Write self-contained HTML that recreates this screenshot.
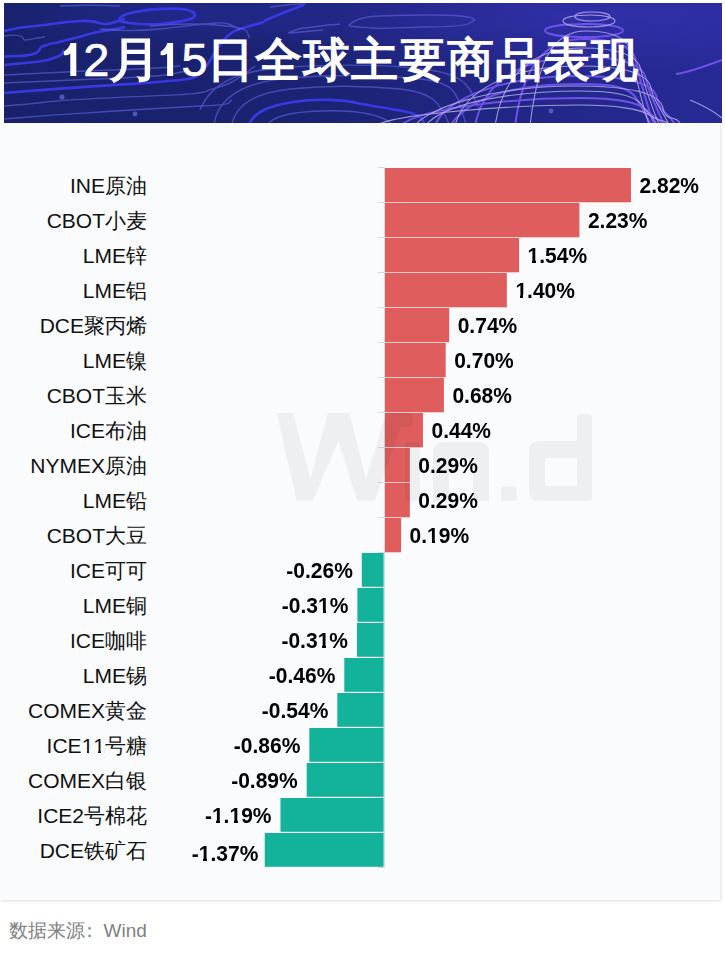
<!DOCTYPE html>
<html><head><meta charset="utf-8">
<style>
html,body{margin:0;padding:0;}
body{width:725px;height:954px;background:#fff;position:relative;overflow:hidden;font-family:"Liberation Sans",sans-serif;}
#banner{position:absolute;left:4px;top:3px;width:718px;height:120px;overflow:hidden;}
#title{position:absolute;left:54px;top:30px;color:#fff;font-size:47px;font-weight:bold;white-space:nowrap;letter-spacing:1px;line-height:54px;}
#title u{text-decoration:none;color:transparent;-webkit-text-stroke:0;}
#title i{font-style:normal;font-weight:normal;letter-spacing:-1px;-webkit-text-stroke:0.6px #fff;}
#panel{position:absolute;left:0;top:123px;width:720px;height:777px;background:#fafbfd;box-shadow:1px 1px 3px rgba(0,0,0,0.13);}
#chart{position:absolute;left:0;top:0;}
.cat{position:absolute;right:578px;font-size:21px;line-height:24px;color:#111;white-space:nowrap;}
.val{position:absolute;font-size:21px;line-height:24px;font-weight:bold;color:#000;white-space:nowrap;transform:scaleY(1.08);transform-origin:0 19.25px;}
.o{position:relative;}
.o::before{content:'';position:absolute;left:0.03em;width:0.185em;bottom:0.19em;height:0.135em;background:#fafbfd;}
.o::after{content:'';position:absolute;left:0.385em;width:0.17em;bottom:0.19em;height:0.135em;background:#fafbfd;}
.r{position:relative;}
.r::before{content:'';position:absolute;left:0.05em;width:0.185em;bottom:0.19em;height:0.11em;background:#fafbfd;}
.r::after{content:'';position:absolute;left:0.355em;width:0.17em;bottom:0.19em;height:0.11em;background:#fafbfd;}
#src{position:absolute;left:8.5px;top:919px;font-size:19px;line-height:24px;color:#808080;white-space:nowrap;}
#src span{font-size:19px;}
</style></head><body>
<div id="banner">
<svg width="718" height="120" viewBox="0 0 718 120">
<defs>
<linearGradient id="bg" x1="0" y1="0" x2="1" y2="0">
<stop offset="0" stop-color="#18216a"/><stop offset="0.45" stop-color="#1b2374"/><stop offset="0.75" stop-color="#222788"/><stop offset="1" stop-color="#272a96"/></linearGradient>
<radialGradient id="glow" cx="0.8" cy="0.1" r="0.5">
<stop offset="0" stop-color="#3a35c0" stop-opacity="0.55"/><stop offset="1" stop-color="#3a35c0" stop-opacity="0"/></radialGradient>
<radialGradient id="glow2" cx="0.25" cy="0.1" r="0.3">
<stop offset="0" stop-color="#2c30b0" stop-opacity="0.4"/><stop offset="1" stop-color="#2c30b0" stop-opacity="0"/></radialGradient>
<filter id="bl" x="-5%" y="-50%" width="110%" height="200%"><feGaussianBlur stdDeviation="0.7"/></filter>
</defs>
<rect width="718" height="120" fill="url(#bg)"/>
<rect width="718" height="120" fill="url(#glow)"/>
<rect width="718" height="120" fill="url(#glow2)"/>
<g fill="none" stroke="#3e3ef5" stroke-width="2.6" opacity="0.85" filter="url(#bl)"><path d="M0.0 28.0C8.0 26.0 18.0 24.0 31.0 23.0S56.0 19.0 76.0 18.0S91.0 21.0 101.0 21.0S111.0 18.0 121.0 16.0"/><path d="M0.0 53.5C8.0 53.0 16.0 53.0 21.0 52.6S32.0 50.0 34.0 48.5S36.0 44.0 39.0 43.0S46.0 40.5 51.0 40.0S61.0 37.0 71.0 35.0S86.0 30.0 96.0 28.5S111.0 26.0 121.0 24.0"/><path d="M0.0 62.0C11.0 61.0 21.0 60.0 29.0 59.3S48.0 56.0 54.0 53.5S58.0 49.0 60.0 47.0"/><path d="M0.0 90.0C36.0 87.0 76.0 84.0 116.0 81.6S161.0 78.0 176.0 77.0S194.0 73.0 201.0 65.0S208.0 50.0 219.0 38.0S233.0 27.0 246.0 23.0S254.0 21.0 260.0 19.0"/><path d="M245.0 121.0C251.0 109.0 264.0 103.0 289.0 99.0S341.0 97.0 353.0 100.0S401.0 107.0 410.0 111.0S418.0 116.0 420.0 121.0"/><path d="M115.0 18.0C126.0 21.0 146.0 22.0 156.0 21.0S186.0 18.0 190.0 14.0S186.0 6.0 173.0 5.7S146.0 6.0 131.0 9.0S115.0 15.0 115.0 18.0Z"/><path d="M260.0 18.0C271.0 13.0 286.0 7.0 300.0 2.0"/></g>
<g fill="none" stroke="#6464e0" stroke-width="1.4" opacity="0.6" filter="url(#bl)"><path d="M0.0 33.0C6.0 32.0 14.0 32.0 17.5 33.6S18.0 37.0 21.0 37.0S31.0 35.0 41.0 34.0"/><path d="M0.0 72.0C26.0 71.0 46.0 69.5 62.0 69.0S96.0 67.0 116.0 66.7S156.0 65.0 176.0 63.0"/><path d="M0.0 80.0C36.0 78.5 76.0 76.5 116.0 75.0S166.0 72.0 186.0 67.0"/><path d="M0.0 103.0C26.0 101.0 41.0 99.0 56.0 97.6S146.0 93.0 176.0 91.6S201.0 88.0 207.0 86.4S224.0 81.0 228.0 79.0S241.0 71.0 251.0 63.0"/><path d="M0.0 116.0C26.0 114.0 41.0 112.5 56.0 111.6S156.0 105.0 196.0 103.0S221.0 100.0 228.0 97.0"/><path d="M146.0 23.0C166.0 21.0 196.0 20.0 223.0 23.0S241.0 30.0 246.0 35.0"/><path d="M96.0 26.0C116.0 28.0 136.0 28.0 156.0 26.0S196.0 21.0 212.0 20.0S231.0 25.0 236.0 27.0"/><path d="M345.0 22.0C351.0 16.0 361.0 13.5 376.0 13.0S436.0 11.0 456.0 13.0S471.0 17.0 466.0 20.0S436.0 24.0 421.0 24.0S381.0 26.0 368.0 25.0S345.0 24.0 345.0 22.0Z"/><path d="M286.0 30.0C296.0 29.0 308.0 28.0 319.0 27.0"/><path d="M266.0 4.0C281.0 2.0 291.0 1.0 302.0 0.5"/><path d="M284.0 30.0C291.0 27.0 296.0 25.0 300.0 25.0S321.0 22.0 336.0 21.0"/><path d="M56.0 3.0C76.0 2.0 96.0 2.0 116.0 3.0"/><path d="M228.0 121.0C232.0 103.0 248.0 90.0 286.0 86.0S366.0 83.0 396.0 86.0S436.0 98.0 445.0 121.0"/><path d="M210.0 121.0C214.0 97.0 236.0 79.0 286.0 75.0S376.0 72.0 416.0 76.0S452.0 93.0 462.0 121.0"/><path d="M264.0 121.0C270.0 113.0 286.0 109.0 316.0 108.0S374.0 109.0 388.0 121.0"/><path d="M196.0 107.0C206.0 82.0 231.0 67.0 286.0 64.0S386.0 61.0 426.0 67.0S466.0 87.0 476.0 107.0"/></g>
<g fill="none" stroke="#7656f2" stroke-width="2" opacity="0.9" filter="url(#bl)"><path d="M584.0,21.0 C605.0,21.0 619.0,24.2 619.0,27.5 C619.0,31.4 601.5,34.0 584.0,34.0 C558.2,34.0 541.0,31.4 541.0,27.5 C541.0,23.6 558.2,21.0 584.0,21.0 Z"/><path d="M511.0,123.0 C519.0,61.0 542.0,36.0 580.0,36.0 C609.4,36.0 629.0,42.0 632.0,58.0 S645.0,109.0 651.0,124.0"/><path d="M471.0,123.0 C479.0,79.0 518.2,54.0 576.0,54.0 C613.8,54.0 639.0,60.0 642.0,76.0 S655.0,109.0 661.0,124.0"/><path d="M431.0,123.0 C439.0,98.0 494.4,73.0 572.0,73.0 C618.8,73.0 650.0,79.0 653.0,95.0 S666.0,109.0 672.0,124.0"/><path d="M446.0,123.0 C466.0,92.0 516.0,81.0 576.0,81.0 C611.0,81.0 626.0,85.0 632.0,95.0 S644.0,115.0 648.0,124.0"/><path d="M396.0,123.0 C416.0,104.0 516.0,95.0 576.0,95.0 C611.0,95.0 634.0,99.0 642.0,107.0 S656.0,115.0 660.0,124.0"/><path d="M672.0,71.0 C686.0,69.0 701.0,63.0 718.0,57.0"/></g>
<g fill="none" stroke="#c9bdf8" stroke-width="1.1" opacity="0.75"><path d="M588.0,9.0 C598.8,9.0 606.0,11.2 606.0,13.5 C606.0,16.2 597.0,18.0 588.0,18.0 C577.8,18.0 571.0,16.2 571.0,13.5 C571.0,10.8 577.8,9.0 588.0,9.0 Z"/><path d="M586.0,12.0 C601.0,12.0 611.0,15.0 611.0,18.0 C611.0,21.6 598.5,24.0 586.0,24.0 C569.8,24.0 559.0,21.6 559.0,18.0 C559.0,14.4 569.8,12.0 586.0,12.0 Z"/><path d="M526.0,123.0 C534.0,53.0 551.2,28.0 582.0,28.0 C607.2,28.0 624.0,34.0 627.0,50.0 S640.0,109.0 646.0,124.0"/><path d="M491.0,123.0 C499.0,70.0 530.1,45.0 578.0,45.0 C611.6,45.0 634.0,51.0 637.0,67.0 S650.0,109.0 656.0,124.0"/><path d="M451.0,123.0 C459.0,88.0 506.4,63.0 574.0,63.0 C616.0,63.0 644.0,69.0 647.0,85.0 S660.0,109.0 666.0,124.0"/><path d="M411.0,123.0 C419.0,108.0 482.6,83.0 570.0,83.0 C621.6,83.0 656.0,89.0 659.0,105.0 S672.0,109.0 678.0,124.0"/><path d="M421.0,123.0 C441.0,98.0 516.0,88.0 576.0,88.0 C611.0,88.0 630.0,92.0 637.0,101.0 S650.0,115.0 654.0,124.0"/><path d="M371.0,123.0 C391.0,110.0 516.0,102.0 576.0,102.0 C611.0,102.0 638.0,106.0 647.0,113.0 S662.0,115.0 666.0,124.0"/><path d="M686.0,97.0 C696.0,101.0 708.0,107.0 718.0,115.0"/></g>
<g fill="#8080f0" opacity="0.55" filter="url(#bl)"><circle cx="58" cy="94" r="2.6"/><circle cx="131" cy="111" r="2.4"/><circle cx="547" cy="108" r="2.4"/></g>
<g fill="#fff"><path d="M72.3,39.9 L72.3,72.9 L66.3,72.9 L66.3,50.4 Q63.3,53.1 59.8,52.1 L59.8,48.7 Q64.8,45.4 66.6,39.9 Z"/><path d="M169.1,39.9 L169.1,72.9 L163.1,72.9 L163.1,50.4 Q160.1,53.1 156.6,52.1 L156.6,48.7 Q161.6,45.4 163.4,39.9 Z"/></g>
</svg>
<div id="title"><i><u>1</u>2</i><span style="display:inline-block;transform:translateX(3px) scale(1.1,1.02)">月</span><i><u>1</u>5</i>日全球主要商品表现</div>
</div>
<div id="panel"></div>
<svg id="chart" width="725" height="954" style="position:absolute;left:0;top:0">
<g stroke="#d9d9d9" stroke-width="1"><line x1="378" y1="167.5" x2="384" y2="167.5"/><line x1="378" y1="202.5" x2="384" y2="202.5"/><line x1="378" y1="237.5" x2="384" y2="237.5"/><line x1="378" y1="272.5" x2="384" y2="272.5"/><line x1="378" y1="307.5" x2="384" y2="307.5"/><line x1="378" y1="342.5" x2="384" y2="342.5"/><line x1="378" y1="377.5" x2="384" y2="377.5"/><line x1="378" y1="412.5" x2="384" y2="412.5"/><line x1="378" y1="447.5" x2="384" y2="447.5"/><line x1="378" y1="482.5" x2="384" y2="482.5"/><line x1="378" y1="517.5" x2="384" y2="517.5"/><line x1="378" y1="552.5" x2="384" y2="552.5"/><line x1="378" y1="587.5" x2="384" y2="587.5"/><line x1="378" y1="622.5" x2="384" y2="622.5"/><line x1="378" y1="657.5" x2="384" y2="657.5"/><line x1="378" y1="692.5" x2="384" y2="692.5"/><line x1="378" y1="727.5" x2="384" y2="727.5"/><line x1="378" y1="762.5" x2="384" y2="762.5"/><line x1="378" y1="797.5" x2="384" y2="797.5"/><line x1="378" y1="832.5" x2="384" y2="832.5"/><line x1="378" y1="867.5" x2="384" y2="867.5"/><line x1="384.5" y1="167.5" x2="384.5" y2="867.5"/></g>
<rect x="385.00" y="168.00" width="245.97" height="34.3" fill="#e05d5d"/><rect x="385.00" y="203.00" width="194.40" height="34.3" fill="#e05d5d"/><rect x="385.00" y="238.00" width="134.10" height="34.3" fill="#e05d5d"/><rect x="385.00" y="273.00" width="121.86" height="34.3" fill="#e05d5d"/><rect x="385.00" y="308.00" width="64.18" height="34.3" fill="#e05d5d"/><rect x="385.00" y="343.00" width="60.68" height="34.3" fill="#e05d5d"/><rect x="385.00" y="378.00" width="58.93" height="34.3" fill="#e05d5d"/><rect x="385.00" y="413.00" width="37.96" height="34.3" fill="#e05d5d"/><rect x="385.00" y="448.00" width="24.85" height="34.3" fill="#e05d5d"/><rect x="385.00" y="483.00" width="24.85" height="34.3" fill="#e05d5d"/><rect x="385.00" y="518.00" width="16.11" height="34.3" fill="#e05d5d"/><rect x="361.78" y="553.00" width="21.82" height="33.8" fill="#12b29b"/><rect x="357.41" y="588.00" width="26.19" height="33.8" fill="#12b29b"/><rect x="356.97" y="623.00" width="26.63" height="33.8" fill="#12b29b"/><rect x="344.30" y="658.00" width="39.30" height="33.8" fill="#12b29b"/><rect x="337.30" y="693.00" width="46.30" height="33.8" fill="#12b29b"/><rect x="309.34" y="728.00" width="74.26" height="33.8" fill="#12b29b"/><rect x="306.71" y="763.00" width="76.89" height="33.8" fill="#12b29b"/><rect x="280.49" y="798.00" width="103.11" height="33.8" fill="#12b29b"/><rect x="264.76" y="833.00" width="118.84" height="33.8" fill="#12b29b"/>
<g fill="#000" opacity="0.045">
<path d="M276.6,413 L293.2,413 L310.5,479 L327.8,413 L349.5,413 L366,479 L386,413 L409,413 Q413,413 413,417 L413,423 Q413,427 409,427 L401,427 L375,500.4 L357,500.4 L338.5,441 L313,500.4 L296.5,500.4 Z"/>
<rect x="405" y="442" width="15" height="59" rx="3"/>
<path d="M433,501 L433,452 Q433,442 443,442 L479,442 Q489,442 489,452 L489,501 L473,501 L473,458 L449,458 L449,501 Z"/>
<rect x="501" y="486.5" width="15.5" height="14.5" rx="1.5"/>
<path d="M589,414 Q592,414 592,417 L592,497 Q592,501 588,501 L539,501 Q529,501 529,491 L529,451 Q529,441 539,441 L577,441 L577,417 Q577,414 580,414 Z M545,458 L545,486 L577,486 L577,458 Z" fill-rule="evenodd"/>
</g>
</svg>
<div class="cat" style="top:173.7px">INE原油</div><div class="cat" style="top:208.7px">CBOT小麦</div><div class="cat" style="top:243.7px">LME锌</div><div class="cat" style="top:278.7px">LME铝</div><div class="cat" style="top:313.7px">DCE聚丙烯</div><div class="cat" style="top:348.7px">LME镍</div><div class="cat" style="top:383.7px">CBOT玉米</div><div class="cat" style="top:418.7px">ICE布油</div><div class="cat" style="top:453.7px">NYMEX原油</div><div class="cat" style="top:488.7px">LME铅</div><div class="cat" style="top:523.7px">CBOT大豆</div><div class="cat" style="top:558.7px">ICE可可</div><div class="cat" style="top:593.7px">LME铜</div><div class="cat" style="top:628.7px">ICE咖啡</div><div class="cat" style="top:663.7px">LME锡</div><div class="cat" style="top:698.7px">COMEX黄金</div><div class="cat" style="top:733.7px">ICE<span class="r">1</span><span class="r">1</span>号糖</div><div class="cat" style="top:768.7px">COMEX白银</div><div class="cat" style="top:803.7px">ICE2号棉花</div><div class="cat" style="top:838.7px">DCE铁矿石</div>
<div class="val" style="left:639.5px;top:173.8px">2.82%</div><div class="val" style="left:587.9px;top:208.8px">2.23%</div><div class="val" style="left:527.6px;top:243.8px"><span class="o">1</span>.54%</div><div class="val" style="left:515.4px;top:278.8px"><span class="o">1</span>.40%</div><div class="val" style="left:457.7px;top:313.8px">0.74%</div><div class="val" style="left:454.2px;top:348.8px">0.70%</div><div class="val" style="left:452.4px;top:383.8px">0.68%</div><div class="val" style="left:431.5px;top:418.8px">0.44%</div><div class="val" style="left:418.3px;top:453.8px">0.29%</div><div class="val" style="left:418.3px;top:488.8px">0.29%</div><div class="val" style="left:409.6px;top:523.8px">0.<span class="o">1</span>9%</div><div class="val neg" style="right:372.2px;top:558.8px">-0.26%</div><div class="val neg" style="right:376.6px;top:593.8px">-0.3<span class="o">1</span>%</div><div class="val neg" style="right:377.0px;top:628.8px">-0.3<span class="o">1</span>%</div><div class="val neg" style="right:389.7px;top:663.8px">-0.46%</div><div class="val neg" style="right:396.7px;top:698.8px">-0.54%</div><div class="val neg" style="right:424.7px;top:733.8px">-0.86%</div><div class="val neg" style="right:427.3px;top:768.8px">-0.89%</div><div class="val neg" style="right:453.5px;top:803.8px">-<span class="o">1</span>.<span class="o">1</span>9%</div><div class="val neg" style="right:466.7px;top:841.6px">-<span class="o">1</span>.37%</div>
<div id="src">数据来源<b style="font-weight:normal;margin-left:-5px;margin-right:5px">：</b><span>Wind</span></div>
</body></html>
